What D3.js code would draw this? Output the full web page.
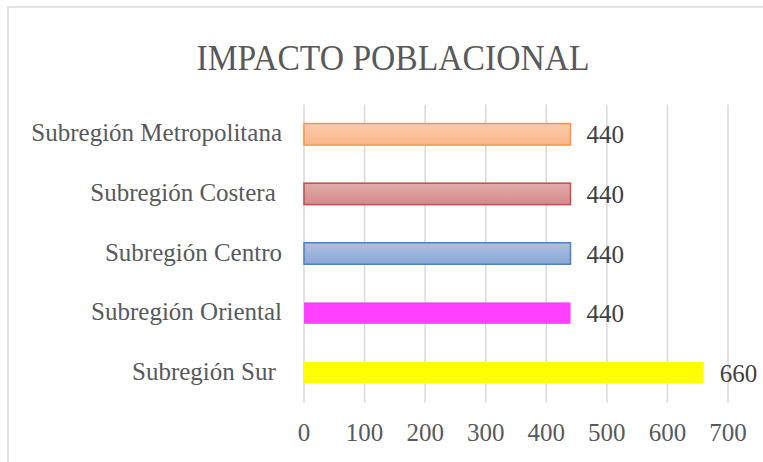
<!DOCTYPE html>
<html>
<head>
<meta charset="utf-8">
<script src="https://cdn.jsdelivr.net/npm/d3@7"></script>
<style>
  body { margin: 0; background: #fff; }
  svg { display: block; font-family: "Liberation Serif", "DejaVu Serif", serif; }
</style>
</head>
<body>
<div id="chart"></div>
<script>
// datos (de arriba a abajo)
const categorias = ["Subregión Metropolitana", "Subregión Costera ", "Subregión Centro", "Subregión Oriental", "Subregión Sur "];
const valores = [440, 440, 440, 440, 660];
const ticks = [0, 100, 200, 300, 400, 500, 600, 700];
const colorArriba = ["#fdcbab", "#e0acab", "#aec1e2", "#ff40ff", "#ffff00"];
const colorAbajo = ["#f9b58b", "#d58a89", "#8aa7d6", "#ff40ff", "#ffff00"];
const colorBorde = ["#f79646", "#c0504d", "#4f81bd", "none", "none"];

const width = 763, height = 462;
const margin = { top: 104.5, right: 35, bottom: 60, left: 304 };

const svg = d3.select("#chart").append("svg")
  .attr("width", width)
  .attr("height", height);

// borde del area del grafico
svg.append("rect")
  .attr("x", 8).attr("y", 7)
  .attr("width", width + 10).attr("height", height + 10)
  .attr("fill", "none")
  .attr("stroke", "#d9d9d9")
  .attr("stroke-width", 1.5);

svg.append("text")
  .attr("x", 393).attr("y", 70)
  .attr("text-anchor", "middle")
  .attr("font-size", 36)
  .attr("fill", "#595959")
  .attr("textLength", 393)
  .attr("lengthAdjust", "spacingAndGlyphs")
  .text("IMPACTO POBLACIONAL");

const x = d3.scaleLinear().domain([0, 700]).range([margin.left, 728]);
const y = d3.scaleBand().domain(categorias)
  .range([margin.top, 402.5])
  .paddingInner(0.64).paddingOuter(0.32);

// lineas de la cuadricula
svg.append("g").selectAll("line")
  .data(ticks)
  .enter().append("line")
  .attr("x1", d => x(d)).attr("x2", d => x(d))
  .attr("y1", margin.top).attr("y2", 402.5)
  .attr("stroke", "#d9d9d9")
  .attr("stroke-width", 1.5);

// etiquetas del eje x
svg.append("g").selectAll("text")
  .data(ticks)
  .enter().append("text")
  .attr("x", d => x(d))
  .attr("y", 441)
  .attr("text-anchor", "middle")
  .attr("font-size", 25)
  .attr("fill", "#595959")
  .text(d => d);

// degradados de las barras
const defs = svg.append("defs");
categorias.forEach(function (c, i) {
  const g = defs.append("linearGradient")
    .attr("id", "grad" + i)
    .attr("x1", 0).attr("y1", 0).attr("x2", 0).attr("y2", 1);
  g.append("stop").attr("offset", "0%").attr("stop-color", colorArriba[i]);
  g.append("stop").attr("offset", "100%").attr("stop-color", colorAbajo[i]);
});

svg.append("g").selectAll("rect")
  .data(valores)
  .enter().append("rect")
  .attr("x", x(0))
  .attr("y", (d, i) => y(categorias[i]))
  .attr("width", d => x(d) - x(0))
  .attr("height", y.bandwidth())
  .attr("fill", (d, i) => "url(#grad" + i + ")")
  .attr("stroke", (d, i) => colorBorde[i])
  .attr("stroke-width", 1.5);

// nombres de las subregiones
svg.append("g").selectAll("text")
  .data(categorias)
  .enter().append("text")
  .attr("x", 282)
  .attr("y", d => y(d) + y.bandwidth() / 2 + 7)
  .attr("text-anchor", "end")
  .attr("font-size", 25)
  .attr("fill", "#595959")
  .style("white-space", "pre")
  .text(d => d);

// valores
svg.append("g").selectAll("text")
  .data(valores)
  .enter().append("text")
  .attr("x", d => x(d) + 16)
  .attr("y", (d, i) => y(categorias[i]) + y.bandwidth() / 2 + 9)
  .attr("font-size", 25)
  .attr("fill", "#404040")
  .text(d => d);
</script>
</body>
</html>
